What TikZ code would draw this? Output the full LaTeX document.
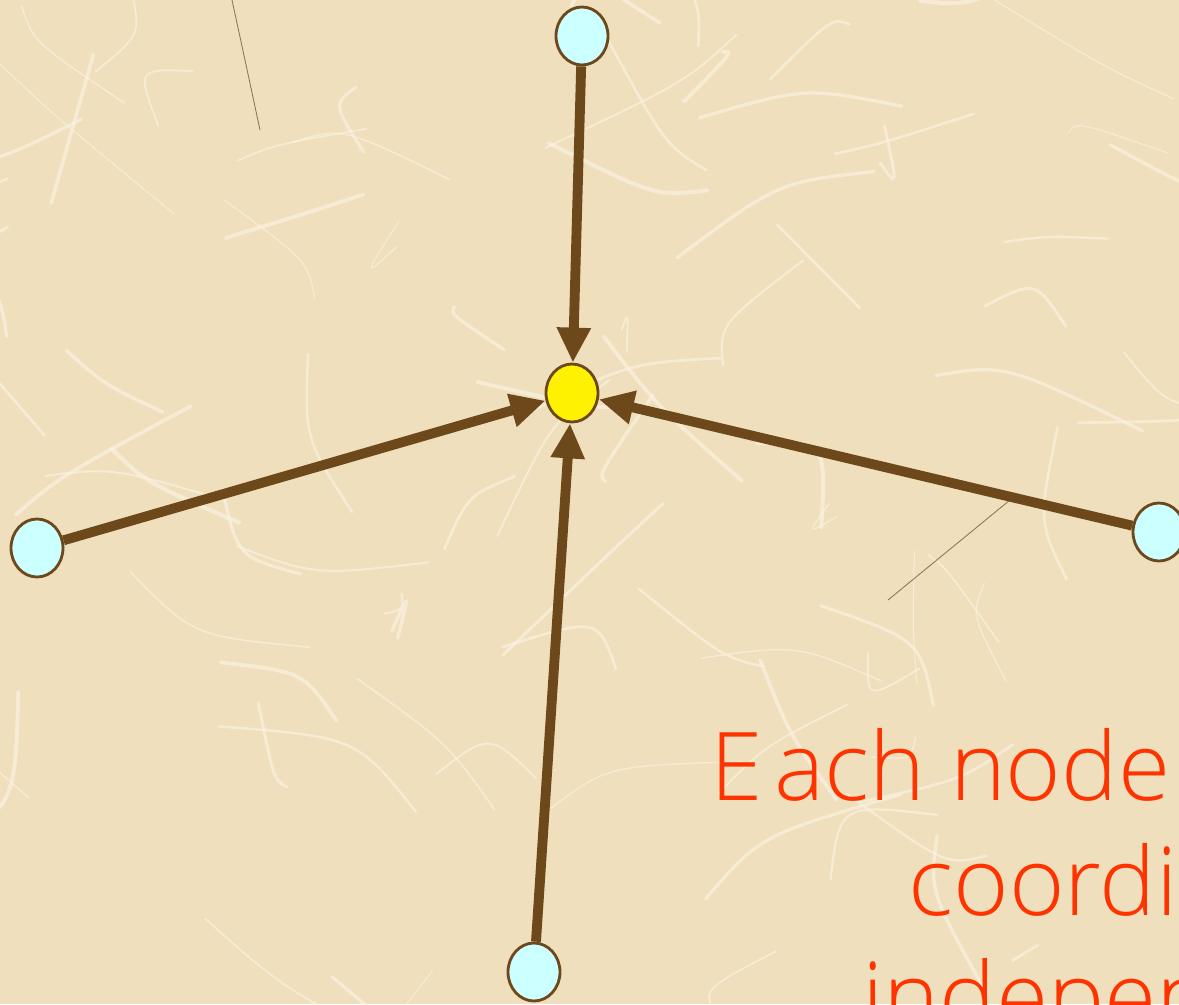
\documentclass[tikz,border=0pt]{standalone}
\usepackage{fontspec}
\setmainfont{Open Sans Light}
\usetikzlibrary{arrows.meta,shapes.geometric}

\definecolor{paper}{RGB}{240,223,188}
\definecolor{fibre}{RGB}{251,244,230}
\definecolor{bark}{RGB}{108,72,26}
\definecolor{sky}{RGB}{204,255,255}
\definecolor{flame}{RGB}{255,51,0}

\begin{document}
\begin{tikzpicture}[
  x=0.02cm,
  y=-0.02cm,
  peer/.style={ellipse, draw=bark, line width=1.6pt, fill=sky, minimum width=1.04cm, minimum height=1.16cm, inner sep=0pt},
  hub/.style={peer, fill=yellow},
  link/.style={line width=5.6pt, draw=bark, arrows={-Triangle[length=0.7cm,width=0.64cm]}},
  note/.style={anchor=base west, text=flame, font=\fontsize{54}{60}\selectfont, inner sep=0pt},
]

% paper background
\useasboundingbox (0,0) rectangle (1179,1004);
\clip (0,0) rectangle (1179,1004);
\fill[paper] (0,0) rectangle (1179,1004);
\pgfmathsetseed{11}
\foreach \i in {1,...,90} {
  \pgfmathsetmacro{\ax}{rnd*1179}
  \pgfmathsetmacro{\ay}{rnd*1004}
  \pgfmathsetmacro{\bx}{\ax+(rnd-0.5)*420}
  \pgfmathsetmacro{\by}{\ay+(rnd-0.5)*320}
  \pgfmathsetmacro{\cx}{(\ax+\bx)/2+(rnd-0.5)*90}
  \pgfmathsetmacro{\cy}{(\ay+\by)/2+(rnd-0.5)*90}
  \pgfmathsetmacro{\w}{0.6+rnd*1.8}
  \draw[fibre, line width=\w pt, opacity=0.6, line cap=round] (\ax,\ay) .. controls (\cx,\cy) .. (\bx,\by);
}
\draw[bark!70!black, line width=0.5pt, opacity=0.6] (232,0) .. controls (245,60) .. (260,130);
\draw[bark!70!black, line width=0.5pt, opacity=0.6] (888,600) -- (1010,500);

% nodes
\node[hub] (centre) at (572,393) {};
\node[peer] (north) at (582,36) {};
\node[peer] (west) at (37,548) {};
\node[peer] (east) at (1159,532) {};
\node[peer] (south) at (534,972) {};

% edges into the hub
\draw[link] (north) -- (centre);
\draw[link] (west) -- (centre);
\draw[link] (east) -- (centre);
\draw[link] (south) -- (centre);

% caption, cut by the frame
\node[note] (line1) at (710,800) {E\kern0.12em ach node};
\node[note] (line2) at (908,915) {coordin};
\node[note] (line3) at (862,1030) {indepen};

\end{tikzpicture}
\end{document}
